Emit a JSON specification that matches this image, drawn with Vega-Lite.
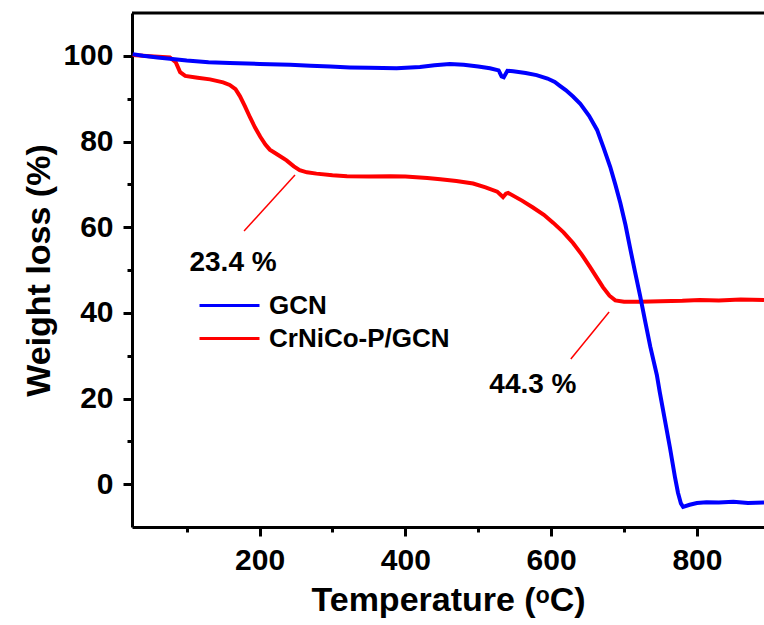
{
  "$schema": "https://vega.github.io/schema/vega-lite/v6.json",
  "width": 632,
  "height": 514,
  "autosize": {"type": "none"},
  "padding": {"left": 132, "top": 13, "right": 0, "bottom": 98},
  "config": {
    "view": {"stroke": null},
    "font": "Liberation Sans",
    "axis": {
      "grid": false,
      "domainColor": "#000000",
      "domainWidth": 3,
      "tickColor": "#000000",
      "tickWidth": 3,
      "labelColor": "#000000",
      "labelFont": "Liberation Sans",
      "labelFontSize": 30,
      "labelFontWeight": "bold",
      "labelOverlap": false,
      "labelFlush": false,
      "titleColor": "#000000",
      "titleFont": "Liberation Sans",
      "titleFontSize": 34,
      "titleFontWeight": "bold"
    },
    "legend": {
      "orient": "none",
      "legendX": 81,
      "legendY": 276,
      "symbolType": "M-2,0H2",
      "symbolSize": 900,
      "symbolStrokeWidth": 3,
      "labelFont": "Liberation Sans",
      "labelFontSize": 26,
      "labelFontWeight": "bold",
      "labelColor": "#000000",
      "labelLimit": 400,
      "rowPadding": 3,
      "labelOffset": 23
    }
  },
  "datasets": {
    "tga": [
      {"T": 26, "w": 100.2, "s": "CrNiCo-P/GCN"},
      {"T": 50, "w": 99.9, "s": "CrNiCo-P/GCN"},
      {"T": 77, "w": 99.6, "s": "CrNiCo-P/GCN"},
      {"T": 85, "w": 98.5, "s": "CrNiCo-P/GCN"},
      {"T": 91, "w": 96.2, "s": "CrNiCo-P/GCN"},
      {"T": 98, "w": 95.3, "s": "CrNiCo-P/GCN"},
      {"T": 115, "w": 94.9, "s": "CrNiCo-P/GCN"},
      {"T": 132, "w": 94.5, "s": "CrNiCo-P/GCN"},
      {"T": 150, "w": 93.8, "s": "CrNiCo-P/GCN"},
      {"T": 159, "w": 93.2, "s": "CrNiCo-P/GCN"},
      {"T": 167, "w": 92.2, "s": "CrNiCo-P/GCN"},
      {"T": 173, "w": 90.6, "s": "CrNiCo-P/GCN"},
      {"T": 180, "w": 88.2, "s": "CrNiCo-P/GCN"},
      {"T": 187, "w": 85.6, "s": "CrNiCo-P/GCN"},
      {"T": 194, "w": 83.2, "s": "CrNiCo-P/GCN"},
      {"T": 201, "w": 81.1, "s": "CrNiCo-P/GCN"},
      {"T": 208, "w": 79.3, "s": "CrNiCo-P/GCN"},
      {"T": 214, "w": 78.1, "s": "CrNiCo-P/GCN"},
      {"T": 225, "w": 76.9, "s": "CrNiCo-P/GCN"},
      {"T": 237, "w": 75.6, "s": "CrNiCo-P/GCN"},
      {"T": 247, "w": 74.2, "s": "CrNiCo-P/GCN"},
      {"T": 255, "w": 73.3, "s": "CrNiCo-P/GCN"},
      {"T": 265, "w": 72.8, "s": "CrNiCo-P/GCN"},
      {"T": 278, "w": 72.5, "s": "CrNiCo-P/GCN"},
      {"T": 300, "w": 72.1, "s": "CrNiCo-P/GCN"},
      {"T": 320, "w": 71.9, "s": "CrNiCo-P/GCN"},
      {"T": 350, "w": 71.8, "s": "CrNiCo-P/GCN"},
      {"T": 380, "w": 71.9, "s": "CrNiCo-P/GCN"},
      {"T": 400, "w": 71.8, "s": "CrNiCo-P/GCN"},
      {"T": 430, "w": 71.5, "s": "CrNiCo-P/GCN"},
      {"T": 448, "w": 71.2, "s": "CrNiCo-P/GCN"},
      {"T": 470, "w": 70.8, "s": "CrNiCo-P/GCN"},
      {"T": 493, "w": 70.2, "s": "CrNiCo-P/GCN"},
      {"T": 510, "w": 69.3, "s": "CrNiCo-P/GCN"},
      {"T": 526, "w": 68.3, "s": "CrNiCo-P/GCN"},
      {"T": 531, "w": 67.5, "s": "CrNiCo-P/GCN"},
      {"T": 534, "w": 67.0, "s": "CrNiCo-P/GCN"},
      {"T": 538, "w": 67.8, "s": "CrNiCo-P/GCN"},
      {"T": 541, "w": 68.0, "s": "CrNiCo-P/GCN"},
      {"T": 560, "w": 66.2, "s": "CrNiCo-P/GCN"},
      {"T": 575, "w": 64.6, "s": "CrNiCo-P/GCN"},
      {"T": 590, "w": 62.9, "s": "CrNiCo-P/GCN"},
      {"T": 603, "w": 61.0, "s": "CrNiCo-P/GCN"},
      {"T": 617, "w": 58.8, "s": "CrNiCo-P/GCN"},
      {"T": 630, "w": 56.3, "s": "CrNiCo-P/GCN"},
      {"T": 642, "w": 53.6, "s": "CrNiCo-P/GCN"},
      {"T": 653, "w": 50.8, "s": "CrNiCo-P/GCN"},
      {"T": 662, "w": 48.4, "s": "CrNiCo-P/GCN"},
      {"T": 671, "w": 46.0, "s": "CrNiCo-P/GCN"},
      {"T": 680, "w": 44.0, "s": "CrNiCo-P/GCN"},
      {"T": 688, "w": 42.9, "s": "CrNiCo-P/GCN"},
      {"T": 700, "w": 42.6, "s": "CrNiCo-P/GCN"},
      {"T": 722, "w": 42.6, "s": "CrNiCo-P/GCN"},
      {"T": 750, "w": 42.7, "s": "CrNiCo-P/GCN"},
      {"T": 780, "w": 42.8, "s": "CrNiCo-P/GCN"},
      {"T": 804, "w": 43.0, "s": "CrNiCo-P/GCN"},
      {"T": 830, "w": 42.9, "s": "CrNiCo-P/GCN"},
      {"T": 860, "w": 43.1, "s": "CrNiCo-P/GCN"},
      {"T": 892, "w": 43.0, "s": "CrNiCo-P/GCN"},
      {"T": 26, "w": 100.4, "s": "GCN"},
      {"T": 40, "w": 100.0, "s": "GCN"},
      {"T": 60, "w": 99.6, "s": "GCN"},
      {"T": 77, "w": 99.3, "s": "GCN"},
      {"T": 100, "w": 98.9, "s": "GCN"},
      {"T": 130, "w": 98.5, "s": "GCN"},
      {"T": 159, "w": 98.3, "s": "GCN"},
      {"T": 200, "w": 98.1, "s": "GCN"},
      {"T": 242, "w": 97.9, "s": "GCN"},
      {"T": 270, "w": 97.7, "s": "GCN"},
      {"T": 297, "w": 97.5, "s": "GCN"},
      {"T": 324, "w": 97.3, "s": "GCN"},
      {"T": 350, "w": 97.2, "s": "GCN"},
      {"T": 388, "w": 97.1, "s": "GCN"},
      {"T": 420, "w": 97.4, "s": "GCN"},
      {"T": 440, "w": 97.8, "s": "GCN"},
      {"T": 461, "w": 98.1, "s": "GCN"},
      {"T": 480, "w": 97.9, "s": "GCN"},
      {"T": 500, "w": 97.5, "s": "GCN"},
      {"T": 516, "w": 97.1, "s": "GCN"},
      {"T": 528, "w": 96.6, "s": "GCN"},
      {"T": 532, "w": 95.2, "s": "GCN"},
      {"T": 535, "w": 95.0, "s": "GCN"},
      {"T": 540, "w": 96.5, "s": "GCN"},
      {"T": 548, "w": 96.4, "s": "GCN"},
      {"T": 565, "w": 96.0, "s": "GCN"},
      {"T": 580, "w": 95.5, "s": "GCN"},
      {"T": 595, "w": 94.7, "s": "GCN"},
      {"T": 605, "w": 93.9, "s": "GCN"},
      {"T": 612, "w": 93.0, "s": "GCN"},
      {"T": 620, "w": 92.0, "s": "GCN"},
      {"T": 630, "w": 90.5, "s": "GCN"},
      {"T": 640, "w": 88.8, "s": "GCN"},
      {"T": 652, "w": 86.0, "s": "GCN"},
      {"T": 663, "w": 82.7, "s": "GCN"},
      {"T": 672, "w": 78.5, "s": "GCN"},
      {"T": 681, "w": 74.1, "s": "GCN"},
      {"T": 688, "w": 70.0, "s": "GCN"},
      {"T": 695, "w": 65.6, "s": "GCN"},
      {"T": 702, "w": 60.5, "s": "GCN"},
      {"T": 708, "w": 55.4, "s": "GCN"},
      {"T": 715, "w": 49.6, "s": "GCN"},
      {"T": 722, "w": 44.0, "s": "GCN"},
      {"T": 729, "w": 38.0, "s": "GCN"},
      {"T": 736, "w": 32.1, "s": "GCN"},
      {"T": 745, "w": 25.5, "s": "GCN"},
      {"T": 749, "w": 21.5, "s": "GCN"},
      {"T": 756, "w": 15.0, "s": "GCN"},
      {"T": 763, "w": 8.5, "s": "GCN"},
      {"T": 770, "w": 1.5, "s": "GCN"},
      {"T": 774, "w": -2.0, "s": "GCN"},
      {"T": 778, "w": -4.5, "s": "GCN"},
      {"T": 781, "w": -5.3, "s": "GCN"},
      {"T": 790, "w": -4.8, "s": "GCN"},
      {"T": 800, "w": -4.4, "s": "GCN"},
      {"T": 813, "w": -4.2, "s": "GCN"},
      {"T": 830, "w": -4.3, "s": "GCN"},
      {"T": 850, "w": -4.1, "s": "GCN"},
      {"T": 870, "w": -4.4, "s": "GCN"},
      {"T": 892, "w": -4.3, "s": "GCN"}
    ],
    "lead": [
      {"T": 248.6, "w": 72.2, "T2": 178.7, "w2": 59.1},
      {"T": 679.5, "w": 40.2, "T2": 627, "w2": 29.2}
    ],
    "ann": [
      {"T": 163.6, "w": 51.6, "label": "23.4 %"},
      {"T": 575, "w": 23.1, "label": "44.3 %"}
    ],
    "frame": [
      {"w": 110}
    ]
  },
  "layer": [
    {
      "data": {"name": "tga"},
      "mark": {"type": "line", "strokeWidth": 4},
      "encoding": {
        "x": {
          "field": "T", "type": "quantitative",
          "scale": {"domain": [25, 892], "nice": false, "zero": false},
          "axis": {
            "values": [100, 200, 300, 400, 500, 600, 700, 800],
            "labelExpr": "datum.value % 200 === 0 ? datum.label : ''",
            "tickSize": {"condition": {"test": "datum.value % 200 !== 0", "value": 5}, "value": 9},
            "labelPadding": 9,
            "title": "Temperature (ᵒC)",
            "titlePadding": 8
          }
        },
        "y": {
          "field": "w", "type": "quantitative",
          "scale": {"domain": [-10, 110], "nice": false, "zero": false},
          "axis": {
            "values": [0, 10, 20, 30, 40, 50, 60, 70, 80, 90, 100],
            "labelExpr": "datum.value % 20 === 0 ? datum.label : ''",
            "tickSize": {"condition": {"test": "datum.value % 20 !== 0", "value": 5}, "value": 9},
            "labelPadding": 10,
            "title": "Weight loss (%)",
            "titlePadding": 6
          }
        },
        "color": {
          "field": "s", "type": "nominal",
          "scale": {"domain": ["GCN", "CrNiCo-P/GCN"], "range": ["#0000ff", "#ff0000"]},
          "legend": {"title": null}
        },
        "order": {"field": "T", "type": "quantitative"}
      }
    },
    {
      "data": {"name": "lead"},
      "mark": {"type": "rule", "color": "#ff0000", "strokeWidth": 1.5},
      "encoding": {
        "x": {"field": "T", "type": "quantitative"},
        "y": {"field": "w", "type": "quantitative"},
        "x2": {"field": "T2"},
        "y2": {"field": "w2"}
      }
    },
    {
      "data": {"name": "ann"},
      "mark": {"type": "text", "font": "Liberation Sans", "fontSize": 28, "fontWeight": "bold", "color": "#000000", "align": "center", "baseline": "middle"},
      "encoding": {
        "x": {"field": "T", "type": "quantitative"},
        "y": {"field": "w", "type": "quantitative"},
        "text": {"field": "label"}
      }
    },
    {
      "data": {"name": "frame"},
      "mark": {"type": "rule", "color": "#000000", "strokeWidth": 3},
      "encoding": {
        "y": {"field": "w", "type": "quantitative"}
      }
    }
  ]
}
